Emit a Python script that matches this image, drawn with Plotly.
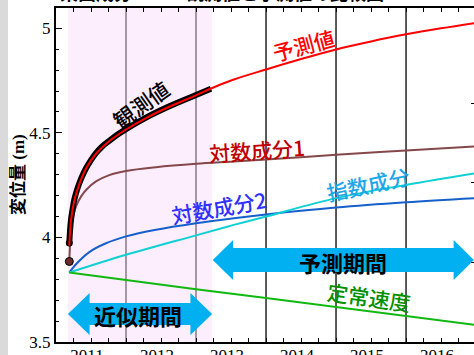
import plotly.graph_objects as go

# ---------------- data (decimal years, metres) ----------------
t_obs = [2011.19, 2011.20, 2011.214, 2011.237, 2011.261, 2011.298, 2011.333, 2011.38, 2011.429,
         2011.5, 2011.571, 2011.66, 2011.761, 2011.88, 2012.0, 2012.286, 2012.619, 2013.0, 2013.214]
obs = [3.973, 4.03, 4.084, 4.135, 4.180, 4.225, 4.259, 4.297, 4.331,
       4.370, 4.403, 4.435, 4.462, 4.492, 4.518, 4.573, 4.627, 4.681, 4.711]

t_pred = [2011.19, 2011.214, 2011.261, 2011.333, 2011.429, 2011.571, 2011.761, 2012.0, 2012.286,
          2012.619, 2013.0, 2013.214, 2013.54, 2014.0, 2014.5, 2015.0, 2015.5, 2016.0, 2016.5, 2017.0]
pred = [3.96, 4.08, 4.175, 4.255, 4.33, 4.40, 4.46, 4.516, 4.571,
        4.625, 4.679, 4.712, 4.755, 4.803, 4.853, 4.899, 4.937, 4.971, 5.0, 5.026]

t_log1 = [2011.19, 2011.205, 2011.229, 2011.286, 2011.357, 2011.429, 2011.571, 2011.761, 2012.0,
          2012.429, 2013.0, 2013.54, 2014.0, 2015.0, 2016.0, 2017.0]
log1 = [3.885, 3.99, 4.07, 4.148, 4.195, 4.227, 4.268, 4.298, 4.318,
        4.336, 4.352, 4.363, 4.373, 4.395, 4.416, 4.435]

t_log2 = [2011.19, 2011.286, 2011.476, 2011.714, 2012.0, 2012.429, 2013.0, 2013.54, 2014.0,
          2015.0, 2016.0, 2017.0]
log2 = [3.832, 3.872, 3.930, 3.972, 4.005, 4.037, 4.068, 4.092, 4.110,
        4.143, 4.168, 4.188]

t_exp = [2011.19, 2012.0, 2013.0, 2013.54, 2014.0, 2015.0, 2016.0, 2017.0]
expc = [3.832, 3.917, 4.010, 4.060, 4.100, 4.188, 4.251, 4.307]

t_lin = [2011.19, 2012.0, 2013.0, 2014.0, 2015.0, 2016.0, 2017.0]
lin = [3.832, 3.795, 3.752, 3.710, 3.667, 3.623, 3.581]

year_lines = [2012, 2013, 2014, 2015, 2016]
year_labels = ["2011", "2012", "2013", "2014", "2015", "2016"]
year_label_pos = [2011.5, 2012.5, 2013.5, 2014.5, 2015.5, 2016.5]
y_major = [3.5, 4, 4.5, 5]
y_major_text = ["3.5", "4", "4.5", "5"]
right_ticks = [4.642, 4.261, 3.880]

fit_start, fit_end, forecast_end = 2011.17, 2013.23, 2016.97
x_range = [2011.0, 2016.971]
y_range = [3.5, 5.097]

# ---------------- styles ----------------
ARROW = "#00b0f0"
CJK = "Noto Sans CJK JP"
SERIF = "Liberation Serif"

fig = go.Figure()

fig.add_trace(go.Scatter(x=t_log1, y=log1, mode="lines", line=dict(color="#84484a", width=2, shape="spline"),
                         hoverinfo="skip", showlegend=False))
fig.add_trace(go.Scatter(x=t_log2, y=log2, mode="lines", line=dict(color="#1660cc", width=2, shape="spline"),
                         hoverinfo="skip", showlegend=False))
fig.add_trace(go.Scatter(x=t_exp, y=expc, mode="lines", line=dict(color="#10d0d4", width=2, shape="spline"),
                         hoverinfo="skip", showlegend=False))
fig.add_trace(go.Scatter(x=t_lin, y=lin, mode="lines", line=dict(color="#10b810", width=2),
                         hoverinfo="skip", showlegend=False))
fig.add_trace(go.Scatter(x=t_obs, y=obs, mode="lines", line=dict(color="black", width=6, shape="spline"),
                         hoverinfo="skip", showlegend=False))
fig.add_trace(go.Scatter(x=t_obs[:1], y=obs[:1], mode="markers", marker=dict(color="black", size=7),
                         hoverinfo="skip", showlegend=False))
fig.add_trace(go.Scatter(x=t_pred, y=pred, mode="lines", line=dict(color="#ff0000", width=2, shape="spline"),
                         hoverinfo="skip", showlegend=False))
fig.add_trace(go.Scatter(x=t_log1[:1], y=log1[:1], mode="markers",
                         marker=dict(color="#6e2a2a", size=8, line=dict(color="black", width=1)),
                         hoverinfo="skip", showlegend=False))
# carrier for the right-hand tick axis
fig.add_trace(go.Scatter(x=t_lin[:1], y=lin[:1], yaxis="y2", mode="markers", marker=dict(opacity=0),
                         hoverinfo="skip", showlegend=False))

shapes = []
for yl in year_lines:
    shapes.append(dict(type="line", xref="x", yref="y", x0=yl, x1=yl, y0=y_range[0], y1=y_range[1],
                       line=dict(color="black", width=1.3), layer="below"))
shapes.append(dict(type="rect", xref="x", yref="y", x0=fit_start, x1=fit_end, y0=y_range[0], y1=y_range[1],
                   fillcolor="rgb(251,219,251)", opacity=0.47, line=dict(width=0), layer="below"))


def arrow_path(x0, x1, yc, bh, hh, hl):
    pts = [(x0, yc), (x0 + hl, yc + hh), (x0 + hl, yc + bh), (x1 - hl, yc + bh), (x1 - hl, yc + hh),
           (x1, yc), (x1 - hl, yc - hh), (x1 - hl, yc - bh), (x0 + hl, yc - bh), (x0 + hl, yc - hh)]
    return "M " + " L ".join(f"{a},{b}" for a, b in pts) + " Z"


shapes.append(dict(type="path", xref="x", yref="y", path=arrow_path(fit_start, fit_end, 3.634, 0.053, 0.100, 0.31),
                   fillcolor=ARROW, line=dict(width=0), layer="below"))
shapes.append(dict(type="path", xref="x", yref="y",
                   path=arrow_path(fit_end + 0.01, forecast_end, 3.892, 0.057, 0.096, 0.29),
                   fillcolor=ARROW, line=dict(width=0), layer="below"))
# grey strip at the left edge of the page
shapes.append(dict(type="rect", xref="paper", yref="paper", x0=-56 / 418, x1=-48 / 418, y0=-0.1, y1=1.1,
                   fillcolor="#dadada", line=dict(width=0), layer="above"))

ann = []


def label(text, x, y, color, size=21, angle=0, weight=500):
    ann.append(dict(text=text, x=x, y=y, xref="x", yref="y", showarrow=False, textangle=angle,
                    font=dict(family=CJK, size=size, color=color, weight=weight),
                    xanchor="center", yanchor="middle"))


label("予測値", 2014.53, 4.92, "#ff0000", angle=-15)
label("観測値", 2012.214, 4.64, "black", angle=-35)
label("対数成分1", 2013.87, 4.418, "#c00000", angle=-4)
label("対数成分2", 2013.33, 4.145, "#3030ff", angle=-10)
label("指数成分", 2015.457, 4.255, "#1ea6e6", angle=-12)
label("定常速度", 2015.47, 3.715, "#009000", angle=8)
label("近似期間", 2012.17, 3.629, "black", size=22, weight=700)
label("予測期間", 2015.1, 3.882, "black", size=22, weight=700)

ann.append(dict(text="変位量 (m)", x=-38 / 418, y=0.5, xref="paper", yref="paper", showarrow=False,
                textangle=-90, font=dict(family=f"{SERIF}, {CJK}", size=17, color="black", weight="bold"),
                xanchor="center", yanchor="middle"))
ann.append(dict(text="東西成分　―　観測値と予測値の比較図", x=2 / 418, y=1 + 16 / 334, xref="paper", yref="paper",
                showarrow=False, font=dict(family=CJK, size=18, color="black", weight="bold"),
                xanchor="left", yanchor="middle"))

fig.update_layout(
    width=474, height=355, autosize=False,
    margin=dict(l=56, r=0, t=8, b=13, pad=0),
    paper_bgcolor="white", plot_bgcolor="rgba(0,0,0,0)",
    shapes=shapes, annotations=ann, showlegend=False,
    xaxis=dict(range=x_range, showgrid=False, zeroline=False, showline=True, linecolor="black", linewidth=2,
               mirror="ticks", ticks="inside", ticklen=4, tickwidth=1, tickcolor="black", automargin=False,
               tickvals=year_label_pos, ticktext=year_labels, ticklabelshift=-4, ticklabelstandoff=-3,
               tickfont=dict(family=SERIF, size=17, color="black"),
               minor=dict(ticks="inside", dtick=0.25, tick0=2011, ticklen=4, tickwidth=1, tickcolor="black",
                          showgrid=False)),
    yaxis=dict(range=y_range, showgrid=False, zeroline=False, showline=True, linecolor="black", linewidth=2,
               mirror=False, ticks="inside", ticklen=6, tickwidth=1, tickcolor="black", automargin=False,
               tickvals=y_major, ticktext=y_major_text,
               tickfont=dict(family=SERIF, size=17, color="black"),
               minor=dict(ticks="inside", dtick=0.1, tick0=3.5, ticklen=3, tickwidth=1, tickcolor="black",
                          showgrid=False)),
    yaxis2=dict(range=y_range, overlaying="y", side="right", showgrid=False, zeroline=False, showline=False,
                ticks="inside", ticklen=3, tickwidth=1, tickcolor="black", tickvals=right_ticks,
                showticklabels=False, automargin=False),
)

fig.write_html("out.html")
